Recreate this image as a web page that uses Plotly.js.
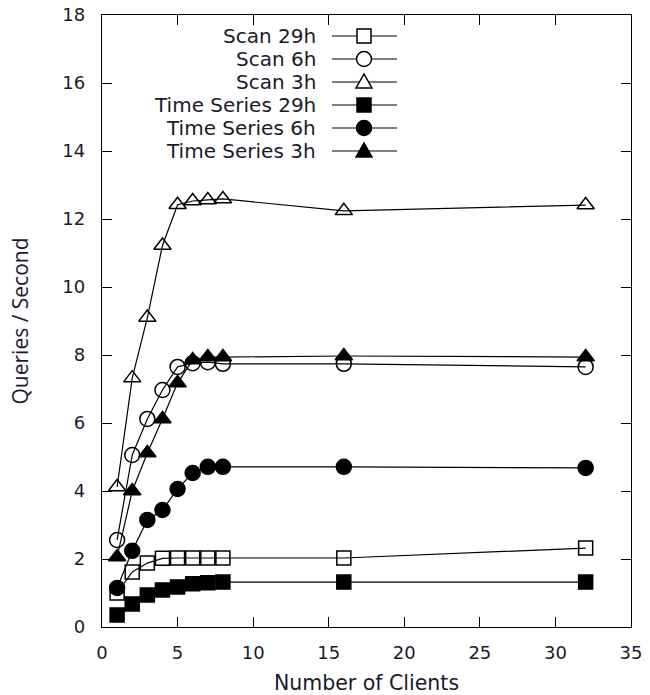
<!DOCTYPE html>
<html>
<head>
<meta charset="utf-8">
<script src="https://cdn.plot.ly/plotly-3.0.1.min.js"></script>
<style>html,body{margin:0;padding:0;background:#fff;}#chart{width:650px;height:695px;}</style>
</head>
<body>
<div id="chart"></div>
<script>
const clients = [1, 2, 3, 4, 5, 6, 7, 8, 16, 32];
const scan29 = [1.00, 1.62, 1.88, 2.02, 2.03, 2.03, 2.03, 2.03, 2.03, 2.32];
const scan6  = [2.56, 5.06, 6.12, 6.97, 7.65, 7.76, 7.79, 7.74, 7.74, 7.65];
const scan3  = [4.12, 7.32, 9.10, 11.22, 12.42, 12.53, 12.56, 12.59, 12.24, 12.41];
const ts29   = [0.35, 0.68, 0.94, 1.09, 1.18, 1.27, 1.30, 1.32, 1.32, 1.32];
const ts6    = [1.15, 2.24, 3.15, 3.44, 4.06, 4.53, 4.71, 4.71, 4.71, 4.68];
const ts3    = [2.06, 4.00, 5.12, 6.12, 7.18, 7.85, 7.94, 7.94, 7.97, 7.94];

const seriesNames = ["Scan 29h", "Scan 6h", "Scan 3h", "Time Series 29h", "Time Series 6h", "Time Series 3h"];
const seriesValues = [scan29, scan6, scan3, ts29, ts6, ts3];
const symbols = ["square-open", "circle-open", "triangle-up-open", "square", "circle", "triangle-up"];
const markerSizes = [14, 15, 15, 14, 15, 15];

const traces = seriesValues.map((vals, i) => ({
  x: clients,
  y: vals,
  name: seriesNames[i],
  type: "scatter",
  mode: "lines+markers",
  line: {color: "#000", width: 1.2},
  marker: {symbol: symbols[i], size: markerSizes[i], color: "#000", line: {color: "#000", width: 1.5}},
  showlegend: false
}));

// Custom legend (symbol right of text, gnuplot style)
const W = 650, H = 695, mL = 102, mR = 19, mT = 15, mB = 68;
const pw = W - mL - mR, ph = H - mT - mB;
const px2x = p => (p - mL) / pw;
const py2y = p => (H - mB - p) / ph;
const rowY = [36, 59, 82, 105, 128, 151];
const textRight = 318, lineL = 332, lineR = 397, markX = 364;

const annotations = [];
const shapes = [];
seriesNames.forEach((nm, i) => {
  const yy = py2y(rowY[i]);
  annotations.push({
    xref: "paper", yref: "paper", x: px2x(textRight), y: yy,
    xanchor: "right", yanchor: "middle", text: nm, showarrow: false,
    font: {family: "DejaVu Sans", size: 20, color: "#1a1a2a"}
  });
  shapes.push({type: "line", xref: "paper", yref: "paper",
    x0: px2x(lineL), x1: px2x(lineR), y0: yy, y1: yy,
    line: {color: "#000", width: 1.2}});
  const filled = !symbols[i].endsWith("open");
  const fill = filled ? "#000" : "#fff";
  const base = {xref: "paper", yref: "paper", xsizemode: "pixel", ysizemode: "pixel",
    xanchor: px2x(markX), yanchor: yy, fillcolor: fill, line: {color: "#000", width: 1.5}};
  if (symbols[i].startsWith("square")) {
    shapes.push(Object.assign({type: "rect", x0: -7, x1: 7, y0: -7, y1: 7}, base));
  } else if (symbols[i].startsWith("circle")) {
    shapes.push(Object.assign({type: "circle", x0: -7.5, x1: 7.5, y0: -7.5, y1: 7.5}, base));
  } else {
    shapes.push(Object.assign({type: "path", path: "M-8,-6 L8,-6 L0,8 Z"}, base));
  }
});

const layout = {
  width: W, height: H,
  margin: {l: mL, r: mR, t: mT, b: mB, pad: 0},
  paper_bgcolor: "#fff", plot_bgcolor: "#fff",
  font: {family: "DejaVu Sans", color: "#1a1a2a"},
  xaxis: {
    range: [0, 35], tickvals: [0, 5, 10, 15, 20, 25, 30, 35],
    ticks: "inside", ticklen: 10, tickwidth: 1, tickcolor: "#000",
    showline: true, linecolor: "#000", linewidth: 1.2, mirror: "ticks",
    showgrid: false, zeroline: false,
    tickfont: {family: "DejaVu Sans", size: 18, color: "#1a1a2a"},
    ticklabelstandoff: 9,
    title: {text: "Number of Clients", font: {family: "DejaVu Sans", size: 20.5, color: "#1a1a2a"}, standoff: 14}
  },
  yaxis: {
    range: [0, 18], tickvals: [0, 2, 4, 6, 8, 10, 12, 14, 16, 18],
    ticks: "inside", ticklen: 10, tickwidth: 1, tickcolor: "#000",
    showline: true, linecolor: "#000", linewidth: 1.2, mirror: "ticks",
    showgrid: false, zeroline: false,
    tickfont: {family: "DejaVu Sans", size: 18, color: "#1a1a2a"},
    ticklabelstandoff: 12,
    title: {text: "Queries / Second", font: {family: "Open Sans", size: 21, color: "#1a1a2a"}, standoff: 28}
  },
  annotations: annotations,
  shapes: shapes,
  showlegend: false
};

Plotly.newPlot("chart", traces, layout, {staticPlot: true, displayModeBar: false});
</script>
</body>
</html>
